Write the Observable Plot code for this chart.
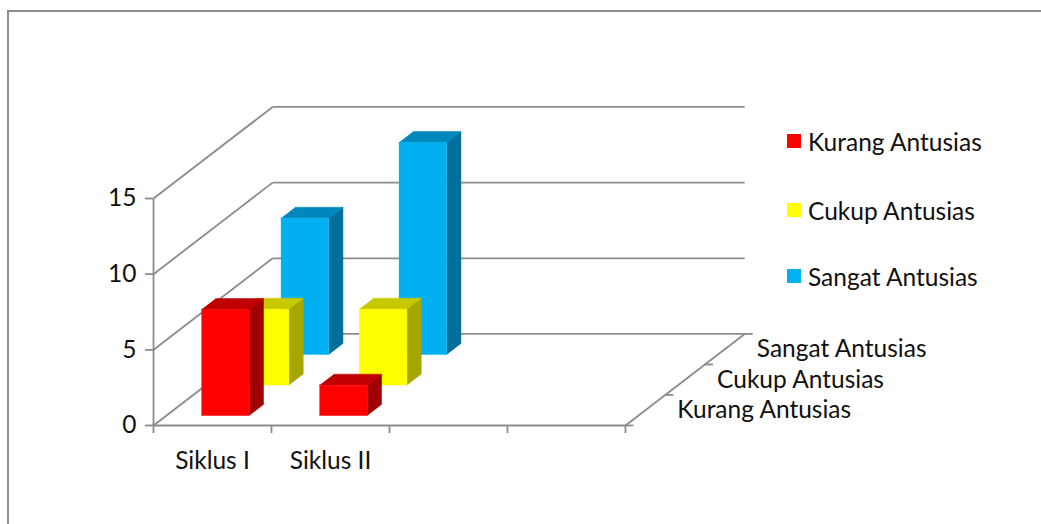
<!DOCTYPE html>
<html>
<head>
<meta charset="utf-8">
<script src="https://cdn.jsdelivr.net/npm/d3@7"></script>
<script src="https://cdn.jsdelivr.net/npm/@observablehq/plot@0.6"></script>
<style>
  html, body { margin: 0; padding: 0; background: #fff; }
  #wrap { position: relative; width: 1041px; height: 524px; overflow: hidden; font-family: Lato, sans-serif; }
  #frame { position: absolute; left: 7px; top: 10px; width: 1100px; height: 600px; border: 2px solid #8e8e8e; box-sizing: border-box; }
  #legend { position: absolute; left: 787px; top: 0; }
  .item { position: absolute; left: 0; white-space: nowrap; font-size: 24.5px; color: #111; display: flex; align-items: center; height: 30px; }
  .sw { width: 14px; height: 14px; margin-right: 7px; }
</style>
</head>
<body>
<div id="wrap">
  <div id="frame"></div>
  <div id="chart"></div>
  <div id="legend"></div>
</div>
<script>
// ---- data ----
const categories = ["Siklus I", "Siklus II", "", ""];
const series = ["Kurang Antusias", "Cukup Antusias", "Sangat Antusias"];
const kurang = [7, 2];
const cukup = [5, 5];
const sangat = [9, 14];
const yTicks = [0, 5, 10, 15];
const frontColors = ["#FF0000", "#FFFF00", "#00B0F0"];
const topColors = ["#C00000", "#C8C800", "#0088BC"];
const sideColors = ["#A00000", "#A6A600", "#006F9A"];

const values = [kurang, cukup, sangat];
const gray = "#8c8c8c";
const FS = 24.5;
// oblique depth vector in data units (category units, value units)
const DX = 1.01, DY = 6.05;
const P = (x, v, d) => ({x: x + d * DX, y: v + d * DY});

// build polygons, drawn back row first
const verts = [];
let pid = 0;
function poly(pts, fill) {
  pid++;
  pts.forEach(p => verts.push({id: pid, x: p.x, y: p.y, fill}));
}
for (let r = series.length - 1; r >= 0; r--) {
  const d0 = (r + 0.33) / 3, d1 = (r + 0.69) / 3;
  values[r].forEach((v, i) => {
    const xa = i + 0.295, xb = i + 0.70;
    poly([P(xb, 0, d0), P(xb, 0, d1), P(xb, v, d1), P(xb, v, d0)], sideColors[r]);
    poly([P(xa, v, d0), P(xb, v, d0), P(xb, v, d1), P(xa, v, d1)], topColors[r]);
    poly([P(xa, 0, d0), P(xb, 0, d0), P(xb, v, d0), P(xa, v, d0)], frontColors[r]);
  });
}

const nCat = categories.length;
const grid = [];
yTicks.forEach(v => {
  grid.push({x1: 0, y1: v, x2: DX, y2: v + DY});          // left wall
  grid.push({x1: DX, y1: v + DY, x2: nCat + DX, y2: v + DY}); // back wall
});
grid.push({x1: 0, y1: 0, x2: nCat, y2: 0});               // floor front
grid.push({x1: nCat, y1: 0, x2: nCat + DX, y2: DY});       // floor right
grid.push({x1: 0, y1: 0, x2: 0, y2: yTicks[yTicks.length - 1]}); // y axis line
const depthTicks = [0, 1, 2, 3].map(k => ({x: nCat + k / 3 * DX, y: k / 3 * DY}));

const chart = Plot.plot({
  width: 1041, height: 524,
  marginLeft: 153, marginRight: 416, marginTop: 198, marginBottom: 99,
  x: {domain: [0, nCat], axis: null},
  y: {domain: [0, 15], axis: null},
  color: {type: "identity"},
  style: {fontFamily: "Lato, sans-serif", fontSize: FS + "px", color: "#111", background: "transparent", overflow: "visible"},
  marks: [
    Plot.link(grid, {x1: "x1", y1: "y1", x2: "x2", y2: "y2", stroke: gray, strokeWidth: 1.8}),
    Plot.link(depthTicks, {x1: "x", y1: "y", x2: d => d.x + 0.068, y2: "y", stroke: gray, strokeWidth: 1.8}),
    Plot.line(verts, {x: "x", y: "y", z: "id", fill: "fill", stroke: "fill", strokeWidth: 0.5, curve: "linear"}),
    Plot.axisY({ticks: yTicks, tickSize: 8, tickPadding: 9, fontSize: FS, stroke: gray, strokeWidth: 1.8, label: null, tickFormat: d => d}),
    Plot.axisX({ticks: d3.range(nCat + 1), tickSize: 8, tickFormat: () => "", stroke: gray, strokeWidth: 1.8, label: null}),
    Plot.text(categories.map((c, i) => ({c, x: i + 0.5})), {x: "x", y: 0, text: "c", dy: 36, fontSize: FS, fill: "#111"}),
    Plot.text(series, {x: (d, r) => nCat + (r + 0.5) / 3 * DX, y: (d, r) => (r + 0.5) / 3 * DY, text: d => d, dx: 32, textAnchor: "start", fontSize: FS, fill: "#111"})
  ]
});
document.getElementById("chart").appendChild(chart);

// legend
const legendTops = [141, 210, 276];
const legend = document.getElementById("legend");
series.forEach((s, r) => {
  const it = document.createElement("div");
  it.className = "item";
  it.style.top = (legendTops[r] - 15) + "px";
  it.innerHTML = `<span class="sw" style="background:${frontColors[r]}"></span><span>${s}</span>`;
  legend.appendChild(it);
});
</script>
</body>
</html>
